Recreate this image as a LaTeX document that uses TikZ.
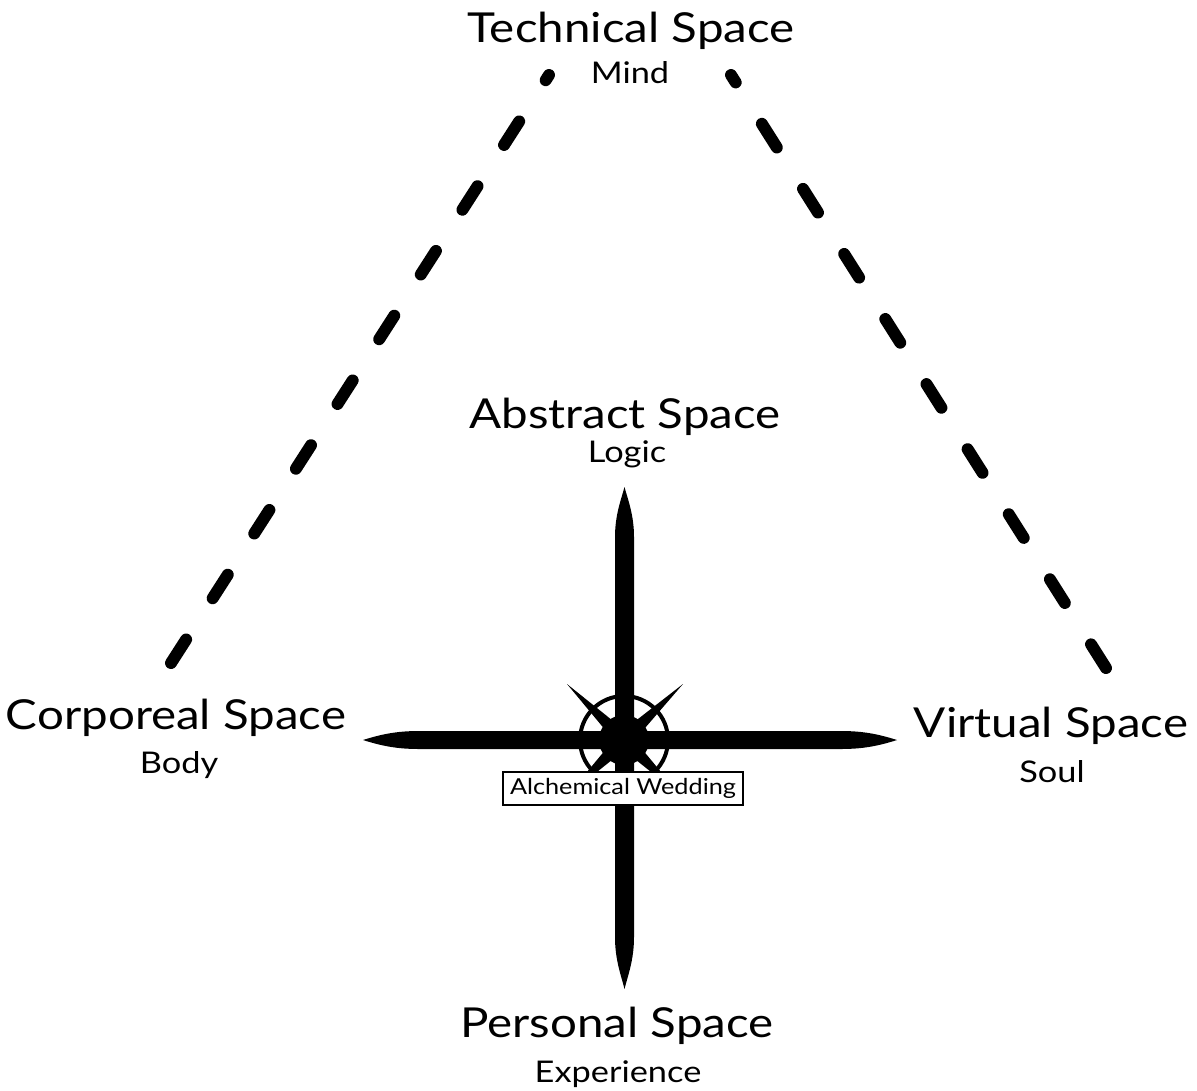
\documentclass[tikz,border=0pt]{standalone}
\usepackage{fontspec}
\setmainfont[FakeStretch=1.15]{Lato}
\begin{document}
\begin{tikzpicture}[x=0.02cm,y=-0.02cm,
  title/.style={anchor=base,inner sep=0pt,font=\fontsize{23.5}{27}\selectfont},
  sub/.style={anchor=base,inner sep=0pt,font=\fontsize{17}{20}\selectfont},
  dashline/.style={line width=6.8pt,line cap=round,dash pattern=on 0.56cm off 0.98cm},
  wedbox/.style={draw=black,fill=white,line width=0.85pt,minimum width=4.8cm,minimum height=0.66cm,inner sep=0pt,font=\fontsize{12.5}{15}\selectfont}]
\useasboundingbox (0,0) rectangle (1197,1090);
% labels
\node[title] (tech) at (631,42) {Technical Space};
\node[sub]   (mind) at (630,83) {Mind};
\node[title] (abs)  at (625,428) {Abstract Space};
\node[sub]   (logic) at (627,462) {Logic};
\node[title] (corp) at (176,729) {Corporeal Space};
\node[sub]   (body) at (179,773) {Body};
\node[title] (virt) at (1051,737) {Virtual Space};
\node[sub]   (soul) at (1052,782) {Soul};
\node[title] (pers) at (617,1037) {Personal Space};
\node[sub]   (exp)  at (618,1082) {Experience};
% dashed triangle sides
\coordinate (lb) at (171,663);
\coordinate (lt) at (549,75);
\coordinate (rb) at (1106,668);
\coordinate (rt) at (731,75);
\draw[dashline] (lb) -- (lt);
\draw[dashline] (rb) -- (rt);
% horizontal bar
\fill (363,740) .. controls (385,733) and (400,731) .. (420,731) -- (840,731)
  .. controls (860,731) and (875,733) .. (897,740)
  .. controls (875,747) and (860,749) .. (840,749) -- (420,749)
  .. controls (400,749) and (385,747) .. (363,740) -- cycle;
% vertical bar
\fill (624.5,487) .. controls (628,500) and (634,515) .. (634,537) -- (634,937)
  .. controls (634,960) and (628,975) .. (624.5,989)
  .. controls (621,975) and (615,960) .. (615,937) -- (615,537)
  .. controls (615,515) and (621,500) .. (624.5,487) -- cycle;
% centre emblem
\coordinate (c) at (624,740);
\draw[line width=2.27pt] (c) circle[radius=0.88cm];
\fill (567,684) -- (629.7,734.3) -- (618.3,745.7) -- cycle;
\fill (683,684) -- (618.3,734.3) -- (629.7,745.7) -- cycle;
\fill (567,796) -- (618.3,734.3) -- (629.7,745.7) -- cycle;
\fill (681,796) -- (629.7,734.3) -- (618.3,745.7) -- cycle;
\fill (c) circle[radius=0.5cm];
\node[wedbox] (wed) at (623,788.5) {Alchemical Wedding};
\end{tikzpicture}
\end{document}
